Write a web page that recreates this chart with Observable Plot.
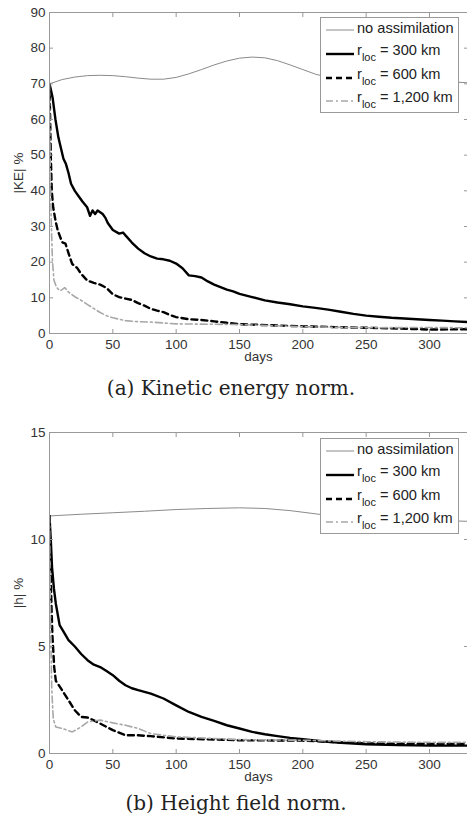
<!DOCTYPE html>
<html><head><meta charset="utf-8">
<script src="https://cdn.jsdelivr.net/npm/d3@7"></script>
<script src="https://cdn.jsdelivr.net/npm/@observablehq/plot@0.6"></script>
<style>
body{margin:0;background:#fff;}
#wrap{position:relative;width:467px;height:829px;overflow:hidden;font-family:"Liberation Sans",Arial,sans-serif;}
.panel{position:absolute;left:0;}
.cap{position:absolute;white-space:nowrap;font-family:"DejaVu Serif",serif;font-size:20px;color:#222;transform:translateX(-50%);}
.legend{position:absolute;left:320px;width:139px;height:96px;background:#fff;border:1px solid #999;box-sizing:border-box;color:#222;font-size:14.6px;}
.row{position:absolute;left:0;height:20px;width:137px;}
.row svg{position:absolute;left:4px;top:0;}
.row span{position:absolute;left:36px;top:0px;line-height:17px;white-space:nowrap;}
.row sub{font-size:11px;vertical-align:-6px;line-height:0;}
</style>
</head><body>
<div id="wrap"></div>
<script>
// ---------- Data ----------
const seriesNames = ["no assimilation", "r_loc = 300 km", "r_loc = 600 km", "r_loc = 1,200 km"];
const xTicks = [0, 50, 100, 150, 200, 250, 300];
const keTicks = [0, 10, 20, 30, 40, 50, 60, 70, 80, 90];
const hTicks = [0, 5, 10, 15];

// (a) Kinetic energy norm
const keNoAssimDays = [0,10,20,30,40,50,60,70,80,90,100,110,120,130,140,150,160,170,180,190,200,210,220,240,260,280,300,320,330];
const keNoAssim     = [70,71.2,71.9,72.3,72.4,72.3,72,71.6,71.3,71.3,71.8,72.8,74,75.3,76.4,77.2,77.5,77.3,76.5,75.3,74,72.7,71.8,70.8,70.3,70.2,70.3,70.5,70.3];
const ke300Days = [0,1,2.5,4.7,7,9,11,13,15,17,20,23,26,29.7,32,34,36,38,40,42,44,46,48,50,55,58,60,65,70,75,80,85,90,95,100,105,110,115,120,125,130,135,140,145,150,160,170,180,190,200,210,220,230,240,250,260,270,280,290,300,310,320,330];
const ke300     = [70,68.5,66,60,55,52,49,47.5,45,42,40,38.5,37,35.4,33,34.5,33.5,34.5,34,33.5,32.5,31,30,29,28,28.3,27.5,25.5,23.8,22.5,21.6,21,20.8,20.4,19.6,18.3,16.3,16.1,15.7,14.6,13.7,13,12.3,11.8,11.1,10.2,9.3,8.7,8.2,7.6,7.2,6.7,6.1,5.5,5.0,4.7,4.4,4.2,4.0,3.8,3.6,3.4,3.2];
const ke600Days = [0,0.5,1,1.8,2.9,4.7,6.5,10,12.6,15.2,17.9,21.8,25,30,35,40,45,50,55,60,65,70,75,80,85,90,95,100,110,120,130,140,150,175,200,225,250,275,300,330];
const ke600     = [70,60,50,40,35.4,31.7,28.9,25.6,25.2,22.3,19.5,18.4,16.7,14.8,14.2,13.7,12.8,11,10.2,9.8,9.4,8.5,7.8,6.9,6.4,6.0,5.2,4.6,4.0,3.8,3.4,3.0,2.6,2.3,2.0,1.8,1.6,1.4,1.1,1.2];
const ke1200Days = [0,0.3,0.8,1.5,2.3,3.5,5.5,8,10,12,15,20,25,30,35,40,45,50,60,70,80,100,150,200,250,300,330];
const ke1200     = [70,55,40,30,20.5,15,13,12,12.3,12.9,11.6,10.3,9.3,8.1,7,5.9,5.0,4.4,3.6,3.3,3.2,2.7,2.5,1.9,1.6,1.7,1.6];

// (b) Height field norm
const hNoAssimDays = [0,25,50,75,100,125,150,170,190,214,250,300,330];
const hNoAssim     = [11.1,11.18,11.25,11.32,11.4,11.45,11.48,11.45,11.35,11.17,11.0,10.9,10.85];
const h300Days = [0,1,2,3.5,5,8,12,15,20,25,30,35,40,45,50,55,60,65,70,80,90,100,110,120,130,140,150,160,170,180,190,200,215,230,250,275,300,330];
const h300     = [11.1,10,8.7,7.7,7.0,6.0,5.6,5.3,5.0,4.65,4.36,4.15,4.04,3.85,3.66,3.4,3.19,3.05,2.96,2.8,2.57,2.25,1.94,1.71,1.52,1.32,1.17,1.01,0.9,0.81,0.73,0.67,0.57,0.5,0.43,0.39,0.37,0.37];
const h600Days = [0,0.7,1.5,2.3,3,3.7,5,10,15,20,25,30,35,40,50,60,70,80,100,150,200,250,300,330];
const h600     = [11.1,9,7,5.5,4.8,4.04,3.4,2.95,2.49,2.02,1.71,1.68,1.55,1.4,1.09,0.85,0.85,0.81,0.7,0.62,0.6,0.47,0.45,0.45];
const h1200Days = [0,0.5,1,1.8,3,5,10,18,25,30,40,50,60,70,80,100,130,150,200,250,300,330];
const h1200     = [11.1,8,5.5,3,1.6,1.24,1.17,1.01,1.24,1.47,1.56,1.43,1.32,1.17,0.93,0.78,0.7,0.65,0.62,0.55,0.52,0.52];

// ---------- Build ----------
const styles = [
  {stroke: "#8a8a8a", strokeWidth: 1},
  {stroke: "#000", strokeWidth: 2.4},
  {stroke: "#000", strokeWidth: 2.4, strokeDasharray: "6,4"},
  {stroke: "#a8a8a8", strokeWidth: 1.6, strokeDasharray: "7,3,2,3"}
];
function rows(days, vals, s) { return days.map((d, i) => ({day: d, value: vals[i], series: s})); }

function panel({series, yDomain, yTicks, yLabel, marginTop, height}) {
  const marks = [];
  series.forEach((d, i) => marks.push(Plot.line(d, {x: "day", y: "value", clip: true, ...styles[i]})));
  const axisColor = "#999";
  marks.push(
    Plot.frame({stroke: axisColor}),
    Plot.axisX({ticks: xTicks, tickSize: 0, tickPadding: 6, fontSize: 13.5, color: "#333", label: null}),
    Plot.axisX({ticks: xTicks, tickSize: -4, text: null, label: null, stroke: axisColor}),
    Plot.axisX({anchor: "top", ticks: xTicks, tickSize: -4, text: null, label: null, stroke: axisColor}),
    Plot.axisY({ticks: yTicks, tickSize: 0, tickPadding: 4, fontSize: 13.5, color: "#333", label: yLabel, labelAnchor: "center", labelArrow: "none", labelOffset: 36}),
    Plot.axisY({ticks: yTicks, tickSize: -4, text: null, label: null, stroke: axisColor}),
    Plot.axisY({anchor: "right", ticks: yTicks, tickSize: -4, text: null, label: null, stroke: axisColor}),
    Plot.text(["days"], {frameAnchor: "bottom", dy: 27, fontSize: 13.5, fill: "#333"})
  );
  return Plot.plot({
    width: 467, height, marginLeft: 49, marginRight: 0, marginTop, marginBottom: 35,
    style: {fontFamily: "'Liberation Sans', Arial, sans-serif", fontSize: "13.5px", color: "#333", background: "transparent"},
    x: {domain: [0, 330]},
    y: {domain: yDomain},
    marks
  });
}

const wrap = document.getElementById("wrap");
const pa = panel({
  series: [rows(keNoAssimDays, keNoAssim), rows(ke300Days, ke300), rows(ke600Days, ke600), rows(ke1200Days, ke1200)],
  yDomain: [0, 90], yTicks: keTicks, yLabel: "|KE| %", marginTop: 12, height: 368
});
pa.classList.add("panel"); pa.style.top = "0px";
wrap.appendChild(pa);

const pb = panel({
  series: [rows(hNoAssimDays, hNoAssim), rows(h300Days, h300), rows(h600Days, h600), rows(h1200Days, h1200)],
  yDomain: [0, 15], yTicks: hTicks, yLabel: "|h| %", marginTop: 32, height: 388
});
pb.classList.add("panel"); pb.style.top = "400px";
wrap.appendChild(pb);

function legend(top) {
  const lg = document.createElement("div");
  lg.className = "legend"; lg.style.top = top + "px";
  const rowTops = [2, 24, 48, 71];
  const labels = ["no assimilation", "r<sub>loc</sub> = 300 km", "r<sub>loc</sub> = 600 km", "r<sub>loc</sub> = 1,200 km"];
  labels.forEach((lab, i) => {
    const r = document.createElement("div");
    r.className = "row"; r.style.top = rowTops[i] + "px";
    const st = styles[i];
    const ly = i === 0 ? 10 : 12;
    r.innerHTML = `<svg width="30" height="20"><line x1="1" x2="29" y1="${ly}" y2="${ly}" stroke="${st.stroke}" stroke-width="${st.strokeWidth}" ${st.strokeDasharray ? `stroke-dasharray="${st.strokeDasharray}"` : ""}/></svg><span>${lab}</span>`;
    lg.appendChild(r);
  });
  wrap.appendChild(lg);
}
legend(17);
legend(438);

function caption(text, x, y) {
  const c = document.createElement("div");
  c.className = "cap"; c.textContent = text;
  c.style.left = x + "px"; c.style.top = y + "px";
  wrap.appendChild(c);
}
caption("(a) Kinetic energy norm.", 231, 376);
caption("(b) Height field norm.", 236, 791);
</script>
</body></html>
